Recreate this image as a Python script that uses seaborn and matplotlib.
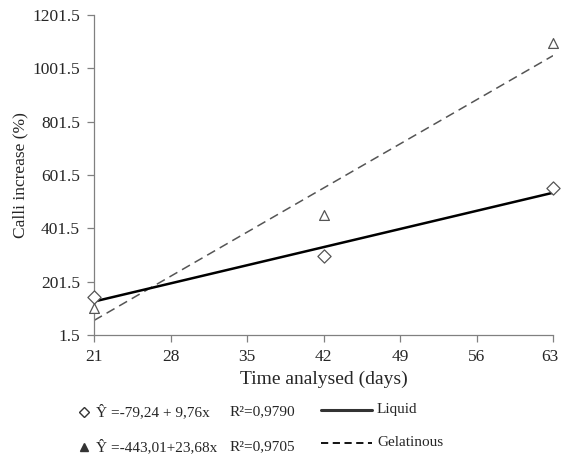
import numpy as np
import pandas as pd
import matplotlib
matplotlib.use("Agg")
import matplotlib.pyplot as plt
import matplotlib.transforms as mtransforms
from matplotlib.lines import Line2D
import seaborn as sns

# data
days = [21, 42, 63]
liquid = [144, 298, 554]
gelatinous = [104, 451, 1096]
fit_days = [21, 63]
liquid_fit = [127, 535]
gel_fit = [56, 1049]
x_ticks = [21, 28, 35, 42, 49, 56, 63]
y_ticks = [1.5, 201.5, 401.5, 601.5, 801.5, 1001.5, 1201.5]
eq_labels = ["Ŷ =-79,24 + 9,76x", "Ŷ =-443,01+23,68x"]
r2_labels = ["R²=0,9790", "R²=0,9705"]
series_names = ["Liquid", "Gelatinous"]

sns.set_style("ticks")
plt.rcParams["font.family"] = ["Liberation Serif", "DejaVu Serif"]

fig = plt.figure(figsize=(5.61, 4.55), dpi=100)
ax = fig.add_axes([94 / 561, 120 / 455, 459 / 561, 320 / 455])

pts = pd.DataFrame({"day": days, "liquid": liquid, "gel": gelatinous})
fit = pd.DataFrame({"day": fit_days, "liquid": liquid_fit, "gel": gel_fit})

sns.lineplot(data=fit, x="day", y="gel", ax=ax, color="#555555", lw=1.1,
             linestyle=(0, (6, 3.5)))
sns.lineplot(data=fit, x="day", y="liquid", ax=ax, color="black", lw=1.8)
sns.scatterplot(data=pts, x="day", y="liquid", ax=ax, marker="D", s=45,
                facecolor="white", edgecolor="#555555", linewidth=0.9, zorder=5,
                clip_on=False)
sns.scatterplot(data=pts, x="day", y="gel", ax=ax, marker="^", s=50,
                facecolor="white", edgecolor="#555555", linewidth=0.9, zorder=5,
                clip_on=False)

ax.set_xlim(21, 63)
ax.set_ylim(1.5, 1201.5)
ax.set_xticks(x_ticks)
ax.set_yticks(y_ticks)
ax.set_yticklabels([f"{v:.1f}" for v in y_ticks])
ax.tick_params(labelsize=12.5, color="#808080", length=5, width=0.9, pad=5)
for s in ["left", "bottom"]:
    ax.spines[s].set_color("#808080")
    ax.spines[s].set_linewidth(0.9)
sns.despine(ax=ax)
ax.set_xlabel("Time analysed (days)", fontsize=14, labelpad=4)
ax.set_ylabel("Calli increase (%)", fontsize=12.5, labelpad=3)

# nudge the last x label so it stays inside the figure
last = ax.get_xticklabels()[-1]
last.set_transform(last.get_transform() +
                   mtransforms.ScaledTranslation(-3 / 100, 0, fig.dpi_scale_trans))

# custom legend under the chart
eq_rows = [412, 447]
line_rows = [410, 443]
for i in range(2):
    yf = 1 - eq_rows[i] / 455
    yl = 1 - line_rows[i] / 455
    mk = "D" if i == 0 else "^"
    fig.add_artist(Line2D([84 / 561], [yf], marker=mk, markersize=5.5 if i == 0 else 6,
                          markerfacecolor="white" if i == 0 else "#333333",
                          markeredgecolor="#333333", linestyle="none"))
    fig.text(96 / 561, yf, eq_labels[i], fontsize=11, va="center")
    fig.text(230 / 561, yf, r2_labels[i], fontsize=11, va="center")
    fig.add_artist(Line2D([321 / 561, 372 / 561], [yl, yl],
                          color="#333333" if i == 0 else "black",
                          lw=2.2 if i == 0 else 1.3,
                          linestyle="-" if i == 0 else (0, (4, 2.5))))
    fig.text(377 / 561, yl, series_names[i], fontsize=11, va="center")

fig.savefig("out.png", dpi=100)
